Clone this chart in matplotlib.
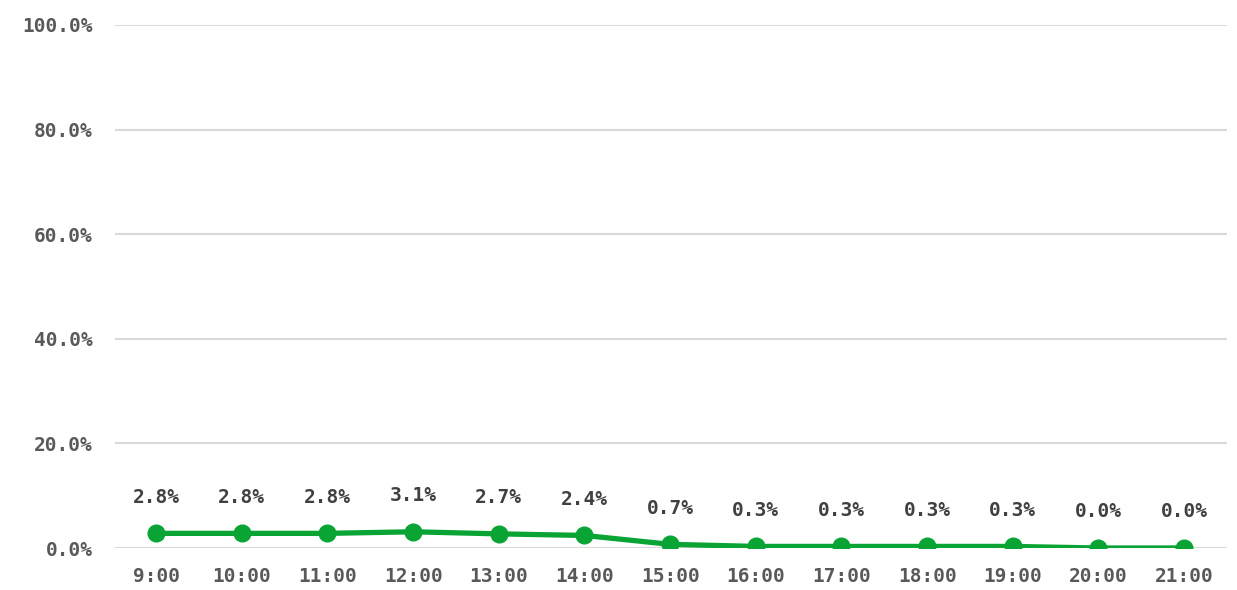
import matplotlib
matplotlib.use("Agg")
import matplotlib.pyplot as plt
from matplotlib.ticker import FuncFormatter

categories = ["9:00", "10:00", "11:00", "12:00", "13:00", "14:00", "15:00",
              "16:00", "17:00", "18:00", "19:00", "20:00", "21:00"]
values = [2.8, 2.8, 2.8, 3.1, 2.7, 2.4, 0.7, 0.3, 0.3, 0.3, 0.3, 0.0, 0.0]
yticks = [0, 20, 40, 60, 80, 100]

font = "DejaVu Sans Mono"
tcol = "#595959"
green = "#09A434"

fig = plt.figure(figsize=(12.37, 5.9), dpi=100)
ax = fig.add_axes([115/1237, 42/590, 1112/1237, 523/590])

x = list(range(len(categories)))
ax.plot(x, values, color=green, lw=3.8, marker="o", ms=12, zorder=3,
        solid_capstyle="round")
for xi, v in zip(x, values):
    ax.annotate(f"{v:.1f}%", (xi, v), xytext=(0, 26), textcoords="offset points",
                ha="center", va="center", fontsize=14, fontweight="bold",
                family=font, color="#404040")

ax.set_xlim(-0.48, 12.5)
ax.set_ylim(0, 100)
ax.set_yticks(yticks)
ax.yaxis.set_major_formatter(FuncFormatter(lambda v, p: f"{v:.1f}%"))
ax.set_xticks(x)
ax.set_xticklabels(categories)
for lbl in ax.get_xticklabels() + ax.get_yticklabels():
    lbl.set_family(font)
    lbl.set_fontweight("bold")
    lbl.set_fontsize(14)
    lbl.set_color(tcol)
ax.tick_params(length=0)
ax.tick_params(axis="y", pad=16)
ax.tick_params(axis="x", pad=14)
ax.grid(axis="y", color="#d9d9d9", lw=1.5, zorder=0)
for s in ax.spines.values():
    s.set_visible(False)
ax.set_axisbelow(True)

fig.savefig("out.png", dpi=100)
